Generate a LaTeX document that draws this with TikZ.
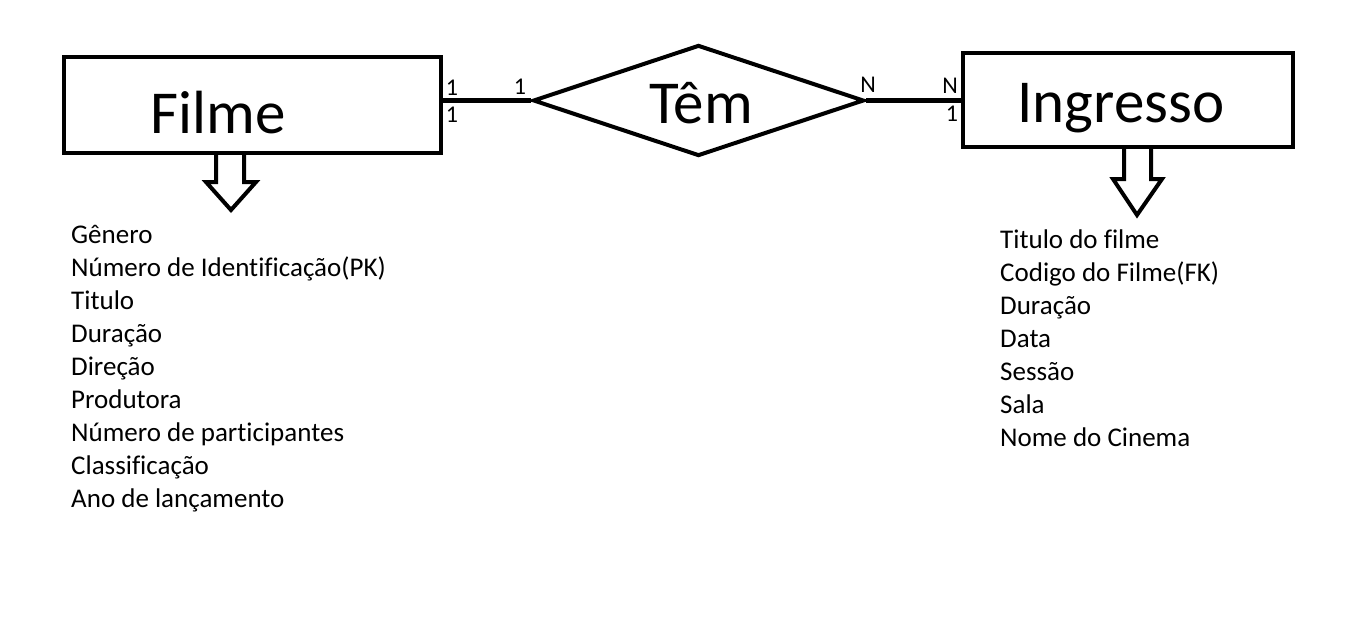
\documentclass[tikz,border=0pt]{standalone}
\usepackage{fontspec}
\setmainfont[Ligatures=NoCommon]{Carlito}
\usetikzlibrary{shapes.geometric}
\begin{document}
\begin{tikzpicture}[x=1pt,y=-1pt,
  entity/.style={draw,line width=4pt,rectangle,inner sep=0pt},
  relation/.style={draw,line width=4pt,diamond,inner sep=0pt},
  conn/.style={line width=5pt},
  title/.style={font=\fontsize{61}{61}\selectfont,inner sep=0pt,anchor=base},
  card/.style={font=\fontsize{24}{24}\selectfont,inner sep=0pt},
  attr/.style={font=\fontsize{27}{30}\selectfont,inner sep=0pt,anchor=base west},
  hollow/.style={draw,line width=4pt,line join=miter}]
\useasboundingbox (0,0) rectangle (1360,640);
\fill[white] (0,0) rectangle (1360,640);
% entities and relation
\node[entity,minimum width=377pt,minimum height=96pt] (filme) at (252.5,105) {};
\node[title] (filmeT) at (218,133) {Filme};
\node[relation,minimum width=331pt,minimum height=111pt] (tem) at (698.5,100.5) {};
\node[title] (temT) at (701,123) {Têm};
\node[entity,minimum width=330pt,minimum height=94pt] (ingresso) at (1128,100) {};
\node[title] (ingT) at (1121,122) {Ingresso};
% connectors
\draw[conn] (tem.west) -- (tem.west -| filme.east);
\draw[conn] (tem.east) -- (tem.east -| ingresso.west);
% cardinalities
\node[card] (c1) at (452,88) {1};
\node[card] (c2) at (452,115) {1};
\node[card] (c3) at (520,87) {1};
\node[card] (c4) at (868,85) {N};
\node[card] (c5) at (950,86) {N};
\node[card] (c6) at (952,114) {1};
% hollow arrows
\draw[hollow] (216,153) -- (216,182) -- (206,182) -- (231,210) -- (256,182) -- (244,182) -- (244,153);
\draw[hollow] (1124,147) -- (1124,179) -- (1113,179) -- (1137,215) -- (1162,179) -- (1151,179) -- (1151,147);
% attributes
\foreach \t [count=\i from 0] in {Gênero,Número de Identificação(PK),Titulo,Duração,Direção,Produtora,Número de participantes,Classificação,Ano de lançamento}
  \node[attr] (fa\i) at (71,{243+33*\i}) {\t};
\foreach \t [count=\i from 0] in {Titulo do filme,Codigo do Filme(FK),Duração,Data,Sessão,Sala,Nome do Cinema}
  \node[attr] (ia\i) at (1000,{248+33*\i}) {\t};
\end{tikzpicture}
\end{document}
